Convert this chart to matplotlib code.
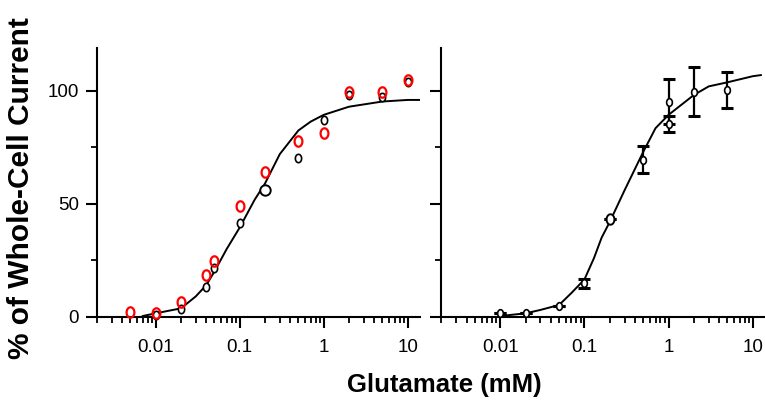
import numpy as np
import matplotlib
matplotlib.use("Agg")
import matplotlib.pyplot as plt
from matplotlib.path import Path
from matplotlib.ticker import LogLocator, FixedLocator, NullFormatter

plt.rcParams['font.family'] = ['Liberation Sans', 'DejaVu Sans']

# ---------------- data ----------------
# left panel: red open circles
red_x = [0.005, 0.01, 0.02, 0.04, 0.05, 0.1, 0.2, 0.5, 1, 2, 5, 10]
red_y = [2.2, 1.5, 6.4, 18.5, 24.8, 49, 64, 78, 81.5, 99.3, 99.3, 105]
# left panel: black open circles
blk_x = [0.01, 0.02, 0.04, 0.05, 0.1, 0.2, 0.5, 1, 2, 5, 10]
blk_y = [0.8, 3.2, 13.3, 21.4, 41.7, 56.1, 70.2, 87.1, 98, 97.2, 103.8]
# left panel fit curve
lfit_x = [0.007, 0.01, 0.02, 0.03, 0.04, 0.05, 0.07, 0.1, 0.15, 0.2, 0.3,
          0.5, 0.7, 1, 2, 5, 10, 14]
lfit_y = [0.3, 1.5, 3.7, 9.0, 14.0, 20.0, 30.0, 39.5, 51.7, 59, 72,
          82.5, 86.4, 89.4, 93, 95.3, 96, 96]

# right panel: mean +/- error
r_x = [0.01, 0.02, 0.05, 0.1, 0.2, 0.5, 1, 1, 2, 5]
r_y = [1.8, 1.8, 4.7, 14.8, 43.1, 69.5, 95.3, 85.5, 99.7, 100.4]
r_err = [0, 0, 0, 2, 0, 6, 10, 3.5, 10.7, 8]
# right panel fit curve
rfit_x = [0.01, 0.02, 0.03, 0.05, 0.07, 0.1, 0.13, 0.16, 0.2, 0.3, 0.5,
          0.7, 1, 2, 3, 5, 10, 12.5]
rfit_y = [0.3, 1.5, 3, 5.2, 10.5, 16.5, 26, 35, 42, 56, 73,
          83.5, 89.4, 98.2, 102, 103.8, 106.5, 107]

xticks = [0.01, 0.1, 1, 10]
xticklabels = ['0.01', '0.1', '1', '10']
yticks = [0, 50, 100]
yticklabels = ['0', '50', '100']
yminor = [25, 75]

# ---------------- figure ----------------
W, H = 765, 405
fig = plt.figure(figsize=(W / 100, H / 100), dpi=100)

def px_axes(x0, x1, ytop, ybot):
    return fig.add_axes([x0 / W, (H - ybot) / H, (x1 - x0) / W, (ybot - ytop) / H])

axL = px_axes(97, 420, 48, 316.7)
axR = px_axes(441.5, 765, 48, 316.7)

# elliptical "0"-shaped marker
t = np.linspace(0, 2 * np.pi, 60)
ell = Path(np.column_stack([0.75 * np.cos(t), np.sin(t)]), closed=True)

for ax in (axL, axR):
    ax.set_xscale('log')
    ax.set_xlim(0.002, 14)
    ax.set_ylim(0, 119)
    for s in ('top', 'right'):
        ax.spines[s].set_visible(False)
    for s in ('left', 'bottom'):
        ax.spines[s].set_linewidth(1.5)
    ax.xaxis.set_major_locator(FixedLocator(xticks))
    ax.set_xticklabels(xticklabels)
    ax.xaxis.set_minor_locator(LogLocator(base=10, subs=np.arange(2, 10)))
    ax.xaxis.set_minor_formatter(NullFormatter())
    ax.yaxis.set_major_locator(FixedLocator(yticks))
    ax.yaxis.set_minor_locator(FixedLocator(yminor))
    ax.tick_params(which='major', direction='out', length=8, width=1.5,
                   labelsize=13.5, pad=8, colors='black')
    ax.tick_params(which='minor', direction='out', length=4.5, width=1.3)
    ax.tick_params(axis='y', which='major', pad=5)
    ax.set_facecolor('none')

axL.set_yticklabels(yticklabels)
axR.set_yticklabels([])

# left panel
axL.plot(lfit_x, lfit_y, color='black', lw=1.4, zorder=2)
bx = np.array(blk_x)
by = np.array(blk_y)
big = bx == 0.2
axL.plot(bx[~big], by[~big], ls='none', marker=ell, ms=6, mfc='white',
         mec='black', mew=1.2, zorder=3, clip_on=False)
axL.plot(bx[big], by[big], ls='none', marker='o', ms=7.5, mfc='white',
         mec='black', mew=1.4, zorder=3, clip_on=False)
axL.plot(red_x, red_y, ls='none', marker=ell, ms=7.5, mfc='none',
         mec='red', mew=1.6, zorder=4, clip_on=False)

# right panel
axR.plot(rfit_x, rfit_y, color='black', lw=1.4, zorder=2)
axR.errorbar(r_x, r_y, yerr=r_err, fmt='none', ecolor='black', elinewidth=1.6,
             capsize=4, capthick=2.2, zorder=3, clip_on=False)
rx = np.array(r_x)
ry = np.array(r_y)
rbig = rx == 0.2
axR.plot(rx[~rbig], ry[~rbig], ls='none', marker=ell, ms=5.5, mfc='white',
         mec='black', mew=1.2, zorder=4, clip_on=False)
axR.plot(rx[rbig], ry[rbig], ls='none', marker=ell, ms=7.5, mfc='white',
         mec='black', mew=1.4, zorder=4, clip_on=False)

fig.text(21 / W, 1 - 188 / H, '% of Whole-Cell Current', rotation=90,
         ha='center', va='center', fontsize=21.5, fontweight='bold')
fig.text(444 / W, 1 - 385 / H, 'Glutamate (mM)', ha='center', va='center',
         fontsize=18.5, fontweight='bold')

fig.savefig('out.png', dpi=100)
